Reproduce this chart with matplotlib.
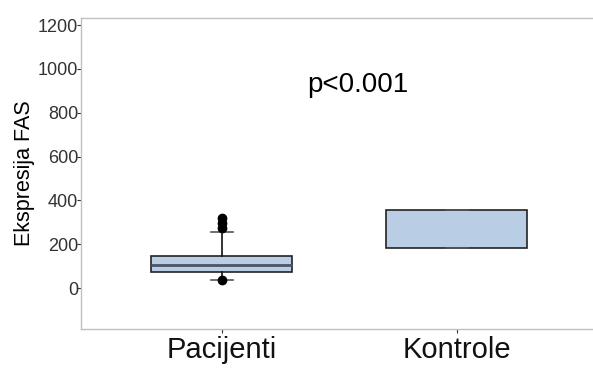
import matplotlib
matplotlib.use("Agg")
import matplotlib.pyplot as plt

plt.rcParams['font.family'] = ['Liberation Sans', 'DejaVu Sans']

# Group labels and box statistics
groups = ["Pacijenti", "Kontrole"]
q1 = [73, 184]
median = [106, 184]
q3 = [145, 356]
whisker_low = [35, 184]
whisker_high = [254, 356]
outliers = [[35, 272, 295, 318], []]

y_ticks = [0, 200, 400, 600, 800, 1000, 1200]

stats = []
for i, g in enumerate(groups):
    stats.append({
        "label": g,
        "q1": q1[i], "med": median[i], "q3": q3[i],
        "whislo": whisker_low[i], "whishi": whisker_high[i],
        "fliers": outliers[i],
    })

fig = plt.figure(figsize=(5.93, 3.69), dpi=100)
# axes run past the right edge of the image (no right border shown)
ax = fig.add_axes([81 / 593, 40 / 369, 1 - 81 / 593 + 0.01, 311 / 369])

bp = ax.bxp(
    stats, positions=[1, 2], widths=0.6, capwidths=0.09, patch_artist=True,
    boxprops=dict(facecolor="#b9cde5", edgecolor="#222222", linewidth=1.2),
    medianprops=dict(color="#4a5566", linewidth=2),
    whiskerprops=dict(color="#111111", linewidth=1.2),
    capprops=dict(color="#555555", linewidth=1.2),
    flierprops=dict(marker="o", markerfacecolor="black", markeredgecolor="black", markersize=6),
)
# second group shows only a box (no median line drawn)
bp["medians"][1].set_visible(False)

ax.set_xlim(0.4, 2.579 + 0.01 * 593 / 235)
ax.set_ylim(-187, 1232)
ax.set_yticks(y_ticks)
ax.set_yticklabels([str(t) for t in y_ticks], fontsize=13, color="#333333")
ax.set_xticks([1, 2])
ax.set_xticklabels(groups, fontsize=21, color="#111111")
ax.tick_params(axis="x", length=3, color="#333333", pad=2)
ax.tick_params(axis="y", length=3, color="#333333", pad=-1)
ax.set_ylabel("Ekspresija FAS", fontsize=15.5, labelpad=2)

for side in ["left", "bottom", "top"]:
    ax.spines[side].set_color("#c0c0c0")
    ax.spines[side].set_linewidth(1)
ax.spines["right"].set_visible(False)

ax.text(1.58, 925, "p<0.001", fontsize=20, ha="center", va="center")

fig.savefig("out.png", dpi=100)
